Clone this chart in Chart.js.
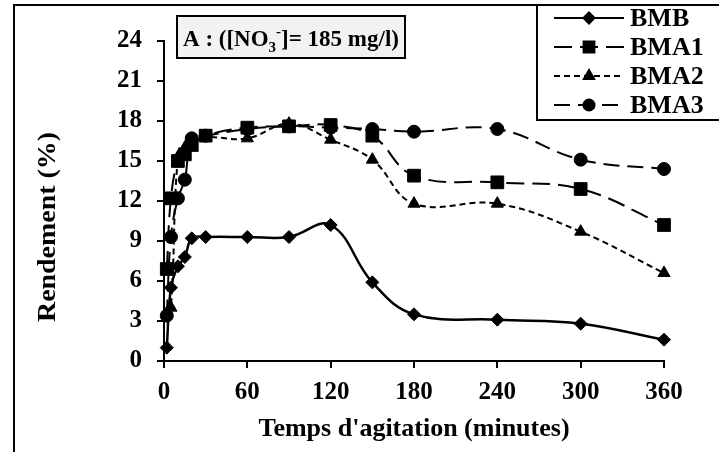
<!DOCTYPE html>
<html>
<head>
<meta charset="utf-8">
<title>Rendement - agitation</title>
<script src="https://cdn.jsdelivr.net/npm/chart.js@4.4.1/dist/chart.umd.min.js"></script>
<style>
  html, body { margin: 0; padding: 0; background: #fff; }
  #chart { display: block; }
</style>
</head>
<body>
<canvas id="chart" width="719" height="452"></canvas>
<script>
// temps d'agitation (minutes)
const temps = [2, 5, 10, 15, 20, 30, 60, 90, 120, 150, 180, 240, 300, 360];

// rendement (%) par adsorbant
const bmb  = [1.0, 5.5, 7.1, 7.8, 9.2, 9.3, 9.3, 9.3, 10.2, 5.9, 3.5, 3.1, 2.8, 1.6];
const bma1 = [6.9, 12.2, 15.0, 15.5, 16.2, 16.9, 17.5, 17.6, 17.7, 16.9, 13.9, 13.4, 12.9, 10.2];
const bma2 = [3.6, 4.0, 15.3, 16.0, 16.6, 16.8, 16.7, 17.8, 16.6, 15.1, 11.8, 11.8, 9.7, 6.6];
const bma3 = [3.4, 9.3, 12.2, 13.6, 16.7, 16.9, 17.4, 17.6, 17.5, 17.4, 17.2, 17.4, 15.1, 14.4];

const noms = ['BMB', 'BMA1', 'BMA2', 'BMA3'];

// graduations
const xTicks = [0, 60, 120, 180, 240, 300, 360];
const yTicks = [0, 3, 6, 9, 12, 15, 18, 21, 24];

const xTitre = "Temps d'agitation (minutes)";
const yTitre = 'Rendement (%)';

const police = '"Liberation Serif", "Times New Roman", serif';

function serie(label, values, style) {
    return Object.assign({
        label: label,
        data: temps.map((t, i) => ({ x: t, y: values[i] })),
        borderColor: '#000',
        backgroundColor: '#000',
        pointBackgroundColor: '#000',
        pointBorderColor: '#000',
        pointBorderWidth: 1,
        borderWidth: 2,
        tension: 0.4,
        clip: false
    }, style);
}

const datasets = [
    serie(noms[0], bmb,  { pointStyle: 'rectRot',  pointRadius: 6.5, borderDash: [], borderWidth: 2.5 }),
    serie(noms[1], bma1, { pointStyle: 'rect',     pointRadius: 9,   borderDash: [18, 8] }),
    serie(noms[2], bma2, { pointStyle: 'triangle', pointRadius: 7,   borderDash: [6, 4] }),
    serie(noms[3], bma3, { pointStyle: 'circle',   pointRadius: 6.5, borderDash: [16, 8] })
];

// petit marqueur pour la légende
function marqueur(ctx, ds, x, y) {
    const opts = {
        pointStyle: ds.pointStyle,
        radius: ds.pointRadius * 0.85,
        rotation: 0,
        borderWidth: 1
    };
    ctx.fillStyle = '#000';
    ctx.strokeStyle = '#000';
    ctx.setLineDash([]);
    Chart.helpers.drawPoint(ctx, opts, x, y);
}

// cadre, titres des axes, encadré "A" et légende
const decor = {
    id: 'decor',
    afterDraw(chart) {
        const ctx = chart.ctx;
        ctx.save();
        ctx.fillStyle = '#000';
        ctx.strokeStyle = '#000';

        // cadre extérieur
        ctx.lineWidth = 2;
        ctx.strokeRect(14, 5, 800, 600);

        // titre axe x
        ctx.font = 'bold 26px ' + police;
        ctx.textAlign = 'center';
        ctx.textBaseline = 'middle';
        ctx.fillText(xTitre, 414, 429);

        // titre axe y (un peu étiré comme sur l'original)
        ctx.save();
        ctx.font = 'bold 25px ' + police;
        const wy = ctx.measureText(yTitre).width;
        ctx.translate(49, 227);
        ctx.rotate(-Math.PI / 2);
        ctx.scale(190 / wy, 1);
        ctx.fillText(yTitre, 0, 0);
        ctx.restore();

        // encadré A : ([NO3-]= 185 mg/l)
        ctx.fillStyle = '#f2f2f2';
        ctx.fillRect(177, 16, 228, 42);
        ctx.lineWidth = 2;
        ctx.strokeRect(177, 16, 228, 42);
        const morceaux = [
            { t: 'A : ([NO', size: 23, dy: 0 },
            { t: '3', size: 15, dy: 6 },
            { t: '-', size: 15, dy: -10 },
            { t: ']= 185 mg/l)', size: 23, dy: 0 }
        ];
        let largeur = 0;
        morceaux.forEach(m => {
            ctx.font = 'bold ' + m.size + 'px ' + police;
            m.w = ctx.measureText(m.t).width;
            largeur += m.w;
        });
        let x = 291 - largeur / 2;
        ctx.fillStyle = '#000';
        ctx.textAlign = 'left';
        ctx.textBaseline = 'alphabetic';
        morceaux.forEach(m => {
            ctx.font = 'bold ' + m.size + 'px ' + police;
            ctx.fillText(m.t, x, 46 + m.dy);
            x += m.w;
        });

        // légende
        ctx.fillStyle = '#fff';
        ctx.fillRect(537, 5, 200, 115);
        ctx.lineWidth = 2;
        ctx.strokeRect(537, 5, 200, 115);
        chart.data.datasets.forEach((ds, i) => {
            const y = 18 + i * 29;
            ctx.lineWidth = 2;
            ctx.setLineDash(ds.borderDash);
            ctx.beginPath();
            ctx.moveTo(554, y);
            ctx.lineTo(624, y);
            ctx.stroke();
            marqueur(ctx, ds, 589, y);
            ctx.fillStyle = '#000';
            ctx.font = 'bold 26px ' + police;
            ctx.textAlign = 'left';
            ctx.textBaseline = 'middle';
            ctx.fillText(ds.label, 630, y + 1);
        });
        ctx.restore();
    }
};

const tickFont = { family: police, size: 25, weight: 'bold' };

new Chart(document.getElementById('chart'), {
    type: 'line',
    data: { datasets: datasets },
    options: {
        responsive: false,
        animation: false,
        events: [],
        layout: { padding: { left: 14, top: 41, right: 55, bottom: 0 } },
        plugins: {
            legend: { display: false },
            tooltip: { enabled: false }
        },
        scales: {
            x: {
                type: 'linear',
                min: 0,
                max: 360,
                afterFit: s => { s.height = 91; },
                afterBuildTicks: s => { s.ticks = xTicks.map(v => ({ value: v })); },
                border: { display: true, color: '#000', width: 2 },
                grid: { drawOnChartArea: false, drawTicks: true, tickLength: 7, color: '#000', lineWidth: 2 },
                ticks: { color: '#000', padding: 10, maxRotation: 0, font: tickFont }
            },
            y: {
                min: 0,
                max: 24,
                afterFit: s => { s.width = 150; },
                afterBuildTicks: s => { s.ticks = yTicks.map(v => ({ value: v })); },
                border: { display: true, color: '#000', width: 2 },
                grid: { drawOnChartArea: false, drawTicks: true, tickLength: 7, color: '#000', lineWidth: 2 },
                ticks: { color: '#000', padding: 15, font: tickFont }
            }
        }
    },
    plugins: [decor]
});
</script>
</body>
</html>
